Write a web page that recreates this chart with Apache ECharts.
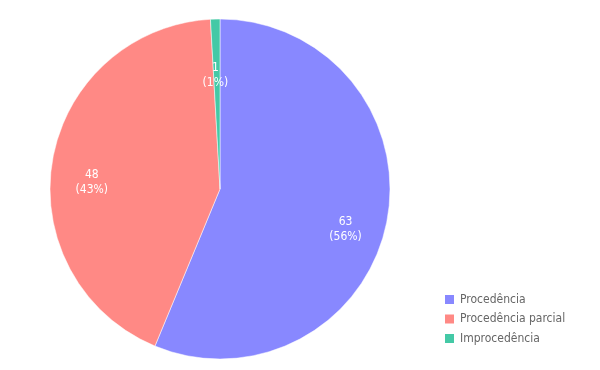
<!DOCTYPE html>
<html><head><meta charset="utf-8">
<script src="https://cdn.jsdelivr.net/npm/echarts@6/dist/echarts.min.js"></script>
<style>html,body{margin:0;padding:0;background:#fff}#c{width:600px;height:370px}</style>
</head><body><div id="c"></div>
<script>
const categories = ['Procedência', 'Procedência parcial', 'Improcedência'];
const values = [63, 48, 1];
const colors = ['#8888ff', '#ff8985', '#44c9a6'];

const FONT = 'DejaVu Sans Condensed';
const data = categories.map((n, i) => ({ name: n, value: values[i], itemStyle: { color: colors[i] } }));
const chart = echarts.init(document.getElementById('c'), null, { renderer: 'canvas' });
chart.setOption({
  animation: false,
  legend: {
    orient: 'vertical', left: 438, top: 288,
    icon: 'rect', itemWidth: 11, itemHeight: 11, itemGap: 6.5,
    textStyle: { fontFamily: FONT, fontSize: 12, color: '#666' },
    data: categories
  },
  series: [
    {
      type: 'pie', center: [220, 189], radius: [0, 170], startAngle: 90,
      data: data, label: { show: false }, labelLine: { show: false },
      itemStyle: { borderColor: '#fff', borderWidth: 0.5 }
    },
    {
      type: 'pie', center: [220, 189], radius: [82, 170], startAngle: 90, silent: true,
      data: categories.map((n, i) => ({ name: n, value: values[i], itemStyle: { color: 'transparent' } })),
      label: {
        show: true, position: 'inside', color: '#fff', fontFamily: FONT, fontSize: 12, lineHeight: 15,
        offset: [-1, 15],
        formatter: p => p.value + '\n(' + Math.round(p.percent) + '%)'
      },
      labelLine: { show: false }
    }
  ]
});
</script></body></html>
